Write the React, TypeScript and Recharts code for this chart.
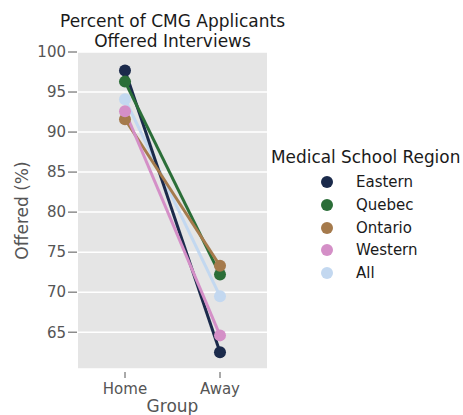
import { LineChart, Line, XAxis, YAxis, CartesianGrid, Label } from 'recharts'

const groups = ['Home', 'Away']
const eastern = [97.7, 62.5]
const quebec = [96.3, 72.2]
const ontario = [91.6, 73.3]
const western = [92.6, 64.6]
const allRegions = [94.1, 69.5]
const yTicks = [65, 70, 75, 80, 85, 90, 95, 100]

const series = [
  { key: 'All', values: allRegions, color: '#c3d8f0' },
  { key: 'Eastern', values: eastern, color: '#1b2a4b' },
  { key: 'Quebec', values: quebec, color: '#2b6e38' },
  { key: 'Ontario', values: ontario, color: '#a57a4c' },
  { key: 'Western', values: western, color: '#d48fc7' },
]
const legendOrder = ['Eastern', 'Quebec', 'Ontario', 'Western', 'All']

const data = groups.map((g, i) => {
  const row: Record<string, string | number> = { group: g }
  series.forEach((s) => {
    row[s.key] = s.values[i]
  })
  return row
})

const font = '"DejaVu Sans", sans-serif'
const tickStyle = { fontSize: 15, fill: '#555555', fontFamily: font }

const RegionLegend = () => (
  <div style={{ position: 'absolute', left: 271, top: 146, fontFamily: font, color: '#1a1a1a' }}>
    <div style={{ fontSize: 16.9, lineHeight: '22px', marginBottom: 3 }}>Medical School Region</div>
    {legendOrder.map((k) => {
      const s = series.find((x) => x.key === k)!
      return (
        <div key={k} style={{ display: 'flex', alignItems: 'center', height: 22.7, fontSize: 15 }}>
          <span
            style={{
              display: 'inline-block',
              width: 12,
              height: 12,
              borderRadius: 6,
              background: s.color,
              marginLeft: 50,
              marginRight: 23,
            }}
          />
          {k}
        </div>
      )
    })}
  </div>
)

export default function App() {
  return (
    <div style={{ position: 'absolute', left: 0, top: 0, width: 463, height: 415, background: '#fff' }}>
      <div
        style={{
          position: 'absolute',
          left: 0,
          width: 345,
          top: 11,
          textAlign: 'center',
          fontFamily: font,
          fontSize: 17,
          lineHeight: '20px',
          color: '#1a1a1a',
        }}
      >
        Percent of CMG Applicants
        <br />
        Offered Interviews
      </div>
      <LineChart width={463} height={415} data={data} margin={{ top: 52, right: 196, bottom: 0, left: 0 }}>
        <CartesianGrid fill="#e5e5e5" stroke="#ffffff" strokeWidth={1.5} vertical={false} />
        <XAxis
          dataKey="group"
          padding={{ left: 47, right: 47 }}
          axisLine={false}
          tickSize={6}
          tickMargin={8}
          tickLine={{ stroke: '#555555', transform: 'translate(0,3)' }}
          tick={tickStyle}
          height={46}
        >
          <Label value="Group" position="insideBottom" offset={3} style={{ ...tickStyle, fontSize: 17 }} />
        </XAxis>
        <YAxis
          type="number"
          domain={[60.4, 100]}
          ticks={yTicks}
          allowDataOverflow
          axisLine={false}
          tickSize={9}
          tickMargin={3}
          tickLine={{ stroke: '#555555', transform: 'translate(-1,0)' }}
          tick={tickStyle}
          width={78}
        >
          <Label
            value="Offered (%)"
            angle={-90}
            position="insideLeft"
            offset={22}
            style={{ ...tickStyle, fontSize: 17, textAnchor: 'middle' }}
          />
        </YAxis>
        {series.map((s) => (
          <Line
            key={s.key}
            dataKey={s.key}
            stroke={s.color}
            strokeWidth={3}
            dot={{ r: 6, fill: s.color, stroke: 'none' }}
            activeDot={false}
            isAnimationActive={false}
          />
        ))}
      </LineChart>
      <RegionLegend />
    </div>
  )
}
